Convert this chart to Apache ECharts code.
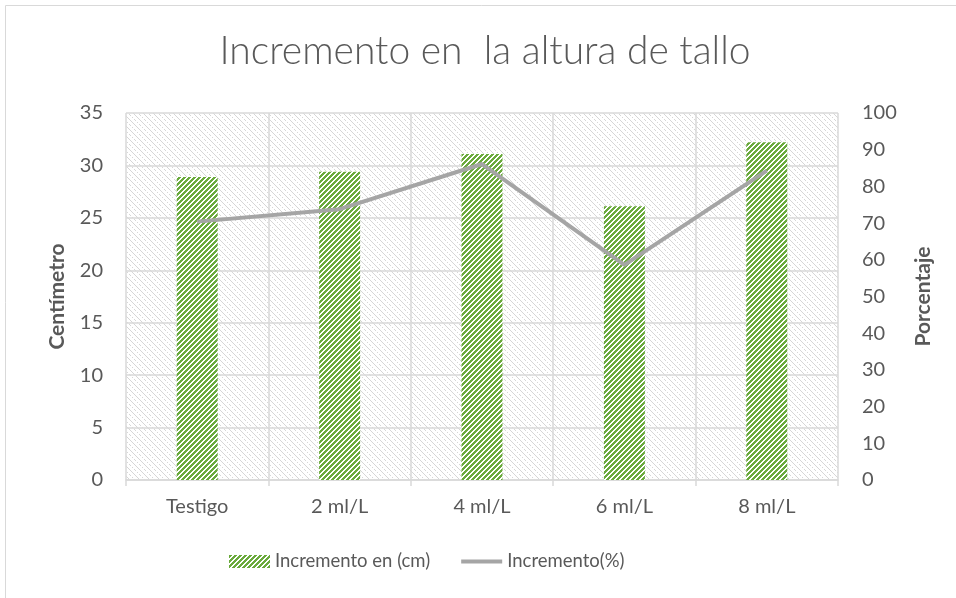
<!DOCTYPE html>
<html>
<head>
<meta charset="utf-8">
<title>Incremento en la altura de tallo</title>
<script src="https://cdn.jsdelivr.net/npm/echarts@6/dist/echarts.min.js"></script>
<style>
  html, body { margin: 0; padding: 0; background: #fff; }
  #chart { width: 956px; height: 598px; }
</style>
</head>
<body>
<div id="chart"></div>
<script>
const categories = ['Testigo', '2 ml/L', '4 ml/L', '6 ml/L', '8 ml/L']
const incrementoCm = [28.9, 29.4, 31.1, 26.1, 32.2]
const incrementoPct = [70.4, 73.8, 86.1, 58.6, 84.3]

const textColor = '#595959'
const font = 'Lato, "Open Sans", sans-serif'

// small pixel tiles used as fills (hatched look)
function makeTile(size, fg, bg, test) {
  const c = document.createElement('canvas')
  c.width = size
  c.height = size
  const ctx = c.getContext('2d')
  ctx.fillStyle = bg
  ctx.fillRect(0, 0, size, size)
  ctx.fillStyle = fg
  for (let x = 0; x < size; x++) {
    for (let y = 0; y < size; y++) {
      if (test(x, y)) ctx.fillRect(x, y, 1, 1)
    }
  }
  return c
}

const barTile = makeTile(10, '#6aaa3c', '#ffffff', (x, y) => (x + y) % 5 < 3)
const bgTile = makeTile(10, '#d6d6d6', '#ffffff', (x, y) => (x - y + 10) % 5 === 0 && (x + y) % 4 < 3)

const chart = echarts.init(document.getElementById('chart'))

chart.setOption({
  animation: false,
  title: {
    text: 'Incremento en  la altura de tallo',
    left: 480,
    top: 27,
    textAlign: 'center',
    textStyle: { color: textColor, fontFamily: font, fontWeight: 300, fontSize: 39 },
  },
  graphic: [
    {
      type: 'rect',
      shape: { x: 5.5, y: 5.5, width: 1200, height: 1200 },
      style: { fill: 'none', stroke: '#d9d9d9', lineWidth: 1 },
      silent: true,
    },
  ],
  grid: {
    left: 126,
    right: 118,
    top: 113,
    bottom: 118,
    show: true,
    borderWidth: 0,
    backgroundColor: { image: bgTile, repeat: 'repeat' },
  },
  legend: {
    bottom: 22,
    left: 224,
    itemWidth: 41,
    itemHeight: 13,
    itemGap: 31,
    textStyle: { color: textColor, fontFamily: font, fontSize: 18.5 },
    data: [
      { name: 'Incremento en (cm)', icon: 'rect' },
      { name: 'Incremento(%)', icon: 'path://M0,0 H41 V4 H0 Z' },
    ],
  },
  xAxis: {
    type: 'category',
    data: categories,
    axisLine: { lineStyle: { color: '#d9d9d9', width: 1.5 } },
    axisTick: { show: true, length: 6, lineStyle: { color: '#d9d9d9', width: 1.5 } },
    axisLabel: { color: textColor, fontFamily: font, fontSize: 20, margin: 17 },
    splitLine: { show: true, lineStyle: { color: '#d9d9d9', width: 1.5 } },
  },
  yAxis: [
    {
      type: 'value',
      min: 0,
      max: 35,
      interval: 5,
      name: 'Centímetro',
      nameLocation: 'middle',
      nameRotate: 90,
      nameGap: 58,
      nameTextStyle: { color: textColor, fontFamily: font, fontSize: 21, fontWeight: 'bold' },
      axisLine: { show: false },
      axisTick: { show: false },
      axisLabel: { color: textColor, fontFamily: font, fontSize: 20, margin: 23 },
      splitLine: { lineStyle: { color: '#d9d9d9', width: 1.5 } },
    },
    {
      type: 'value',
      min: 0,
      max: 100,
      interval: 10,
      name: 'Porcentaje',
      nameLocation: 'middle',
      nameRotate: 90,
      nameGap: 75,
      nameTextStyle: { color: textColor, fontFamily: font, fontSize: 21, fontWeight: 'bold' },
      axisLine: { show: false },
      axisTick: { show: false },
      axisLabel: { color: textColor, fontFamily: font, fontSize: 20, margin: 24 },
      splitLine: { show: false },
    },
  ],
  series: [
    {
      name: 'Incremento en (cm)',
      type: 'bar',
      yAxisIndex: 0,
      barWidth: 41,
      data: incrementoCm,
      itemStyle: { color: { image: barTile, repeat: 'repeat' } },
    },
    {
      name: 'Incremento(%)',
      type: 'line',
      yAxisIndex: 1,
      data: incrementoPct,
      symbol: 'none',
      lineStyle: { color: '#a5a5a5', width: 4 },
      itemStyle: { color: '#a5a5a5' },
    },
  ],
})
</script>
</body>
</html>
